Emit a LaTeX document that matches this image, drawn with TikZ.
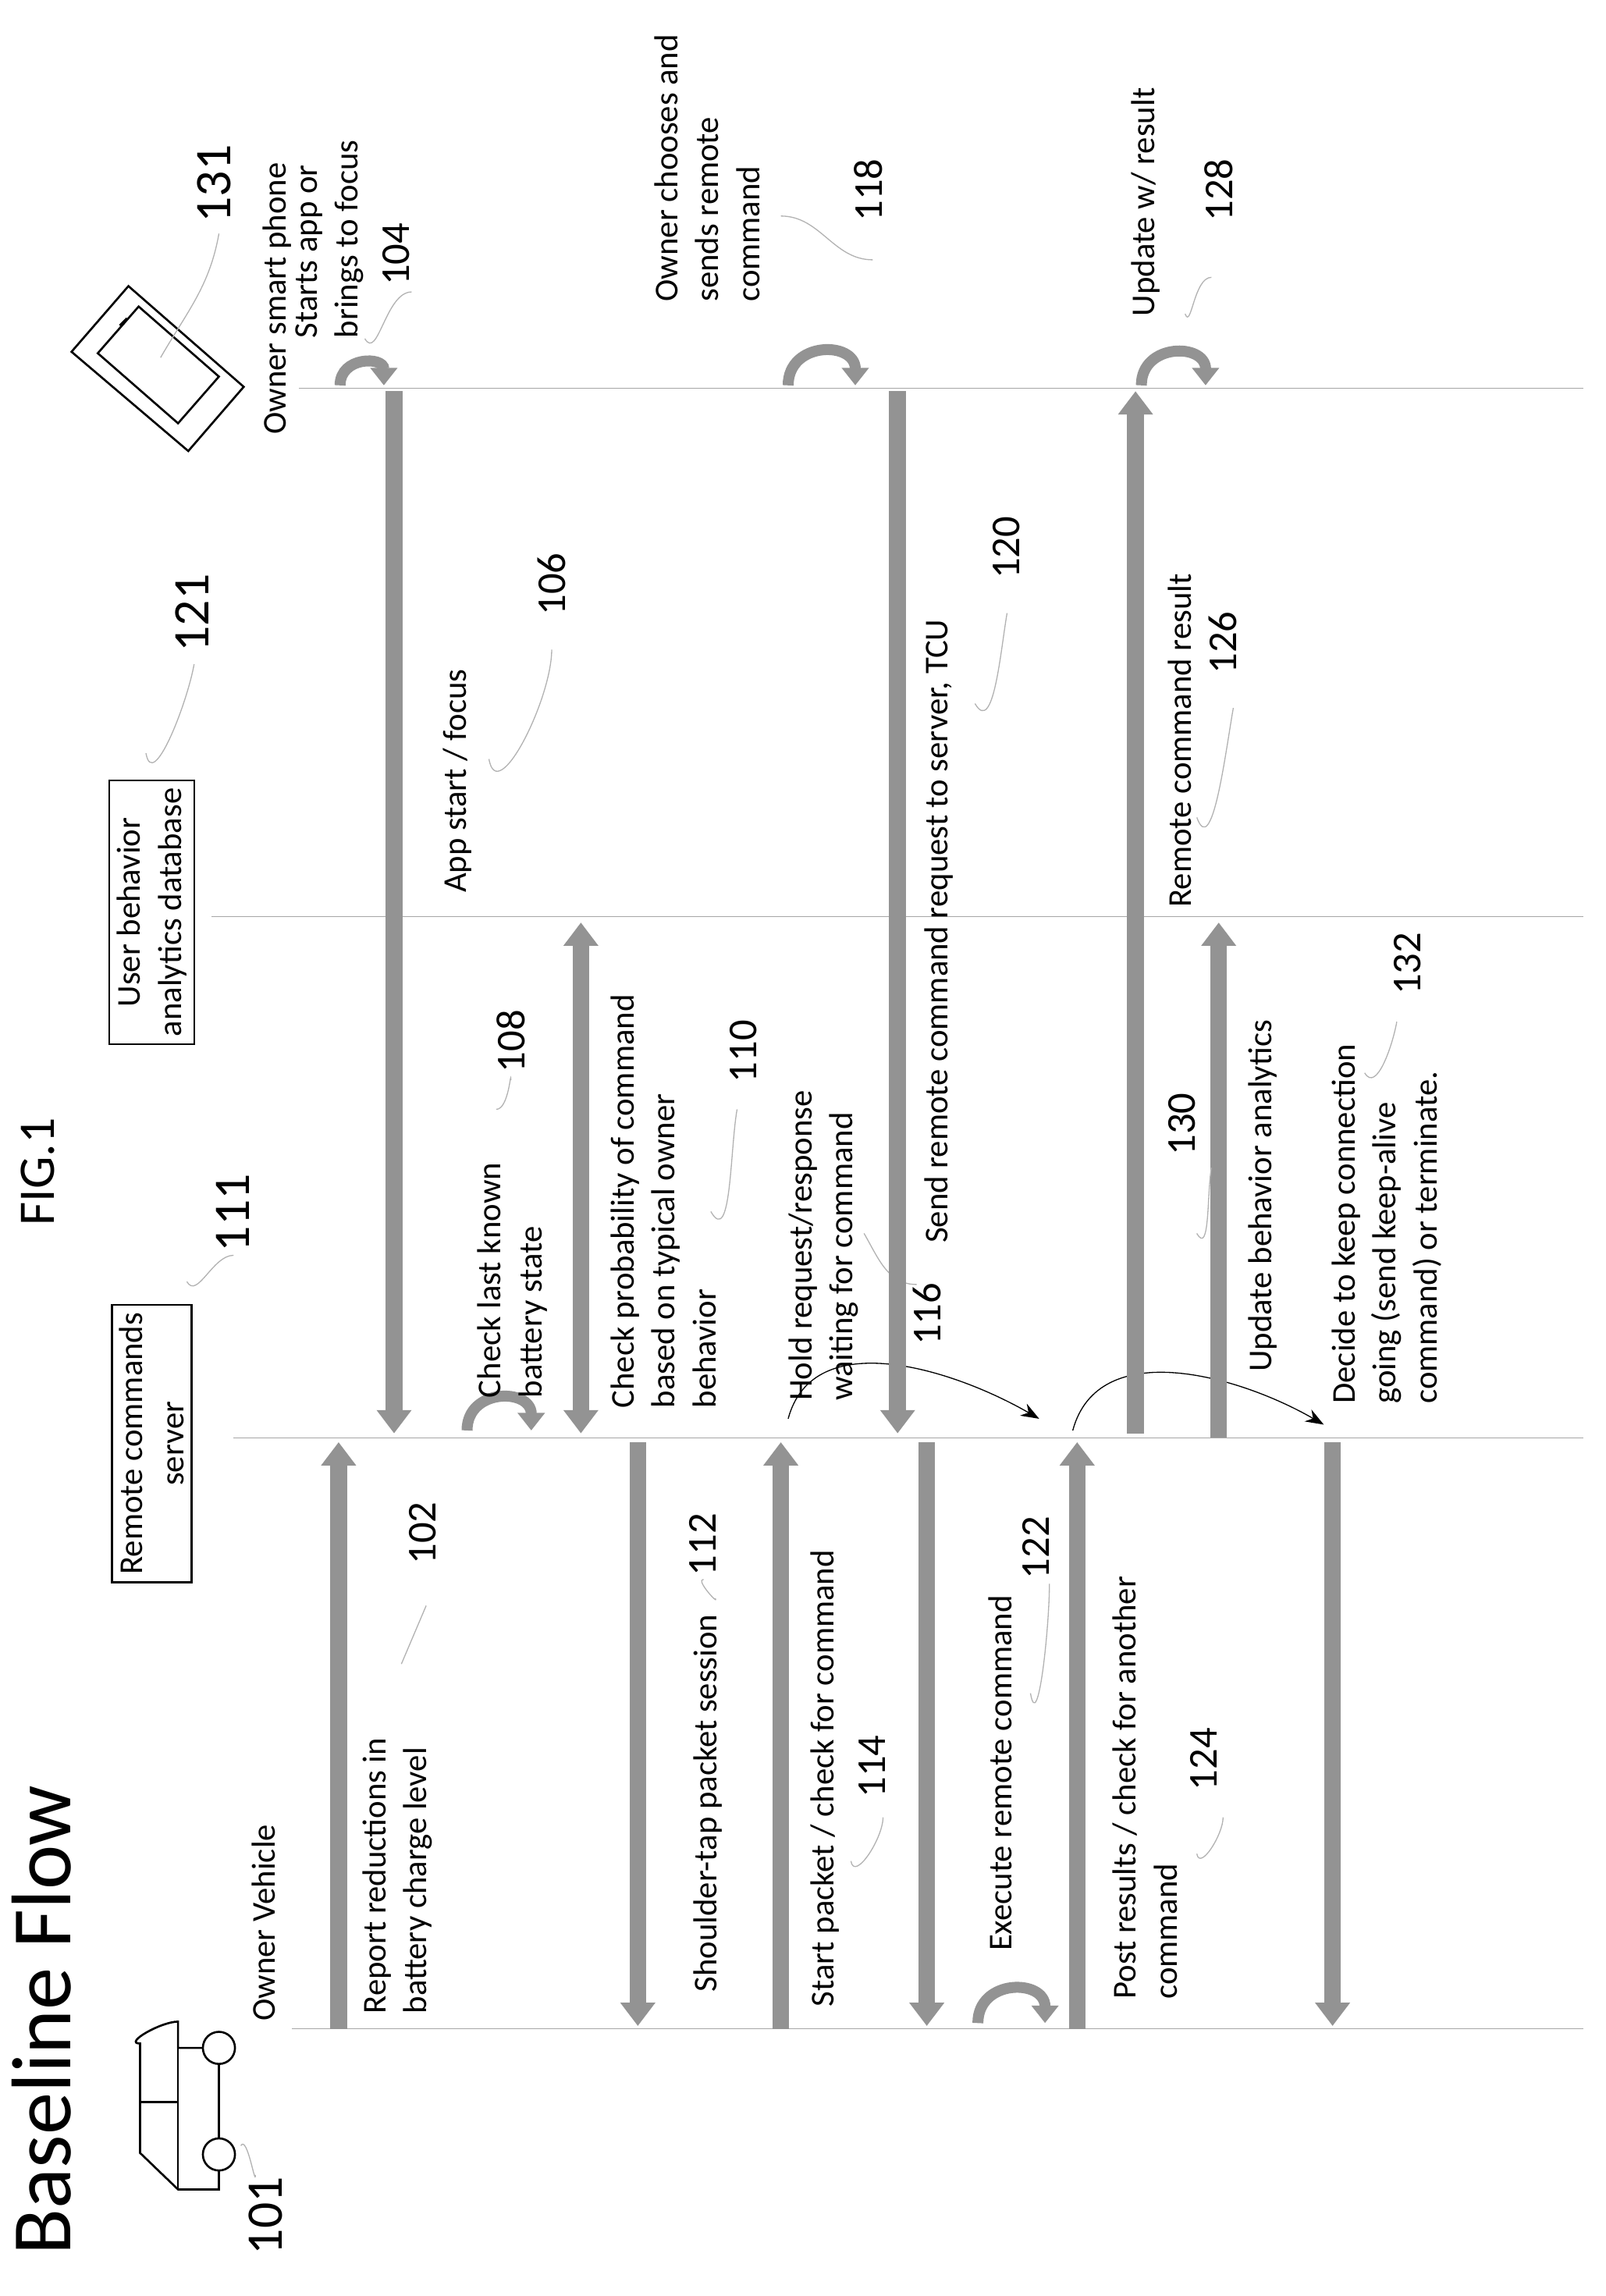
\documentclass[tikz,border=0pt]{standalone}
\usepackage{fontspec}
\setmainfont{Carlito}
\usetikzlibrary{arrows.meta}
\tikzset{%
    life/.style={draw=gray!70, thin},
    msg/.style={draw=gray!85, line width=2.3mm,
        -{Triangle[width=4.6mm,length=3.2mm]}},
    twoway/.style={msg, {Triangle[width=4.6mm,length=3.2mm]}-{Triangle[width=4.6mm,length=3.2mm]}},
    loop/.style={draw=gray!85, line width=1.5mm, -{Triangle[width=3.6mm,length=2.4mm]}},
    hold/.style={draw=black, thin, -{Stealth[length=2.5mm]}},
    lead/.style={draw=gray!60, thin},
    lbl/.style={rotate=90, anchor=north west, align=left, inner sep=0pt,
        font=\fontsize{13}{16}\selectfont},
    num/.style={rotate=90, anchor=north west, inner sep=0pt,
        font=\fontsize{16}{18}\selectfont},
    big/.style={num, font=\fontsize{20}{22}\selectfont}
}
\begin{document}
\begin{tikzpicture}[x=0.02cm,y=-0.02cm]
    \useasboundingbox (0,0) rectangle (1100,1573);
    % lifelines
    \draw[life] (200,1390) coordinate (veh0) -- (1085,1390) coordinate (veh1);
    \draw[life] (160,985) coordinate (srv0) -- (1085,985) coordinate (srv1);
    \draw[life] (145,628) coordinate (db0) -- (1085,628) coordinate (db1);
    \draw[life] (205,266) coordinate (ph0) -- (1085,266) coordinate (ph1);
    % titles
    \node[rotate=90, anchor=north west, inner sep=0pt, font=\fontsize{33}{36}\selectfont] (title) at (8,1545) {Baseline Flow};
    \node[big] (fig) at (14,840) {FIG.1};
    % vehicle
    \draw[thick] (150,1403) circle (11) (150,1476) circle (11);
    \draw[thick] (139,1403) -- (122,1403) -- (122,1385) to[out=180,in=180] (96,1400)
        -- (96,1475) -- (122,1500) -- (150,1500) -- (150,1487);
    \draw[thick] (150,1414) -- (150,1465);
    \draw[thick] (96,1440) -- (122,1440) (122,1403) -- (122,1500);
    \node[big] (n101) at (170,1545) {101};
    \draw[lead] (165,1470) to[out=60,in=-90] (175,1490);
    \node[lbl] (veh) at (172,1385) {Owner Vehicle};
    % phone
    \draw[thick] (49,241) -- (88,196) -- (167,265) -- (129,309) -- cycle;
    \draw[thick] (67,242) -- (95,210) -- (150,258) -- (122,290) -- cycle;
    \draw[thick] (82,223) -- (87,218);
    \node[big] (n131) at (135,153) {131};
    \draw[lead] (110,245) to[out=60,in=-100] (150,160);
    % boxes
    \node[draw, thick, rotate=90, inner sep=3pt, align=center,
        font=\fontsize{13}{16}\selectfont] (srvbox) at (104,989) {Remote commands\\server};
    \node[big] (n111) at (148,858) {111};
    \draw[lead] (128,878) to[out=-60,in=180] (160,860);
    \node[draw, thick, rotate=90, inner sep=3pt, align=center,
        font=\fontsize{13}{16}\selectfont] (dbbox) at (104,625) {User behavior\\analytics database};
    \node[big] (n121) at (120,447) {121};
    \draw[lead] (100,516) to[out=-80,in=-100] (133,455);
    % messages
    \draw[msg] (232,1390) -- (232,988);
    \node[lbl] (t102) at (248,1380) {Report reductions in\\battery charge level};
    \node[num] (n102) at (280,1072) {102};
    \draw[lead] (275,1140) -- (292,1100);

    \draw[loop] (233,264) to[out=90,in=90,looseness=1.7] (263,264);
    \node[lbl] (t104a) at (180,298) {Owner smart phone};
    \node[lbl] (t104) at (202,232) {Starts app or\\brings to focus};
    \node[num] (n104) at (262,196) {104};
    \draw[lead] (250,232) to[out=-60,in=180] (282,200);

    \draw[msg] (270,268) -- (270,982);
    \node[lbl] (t106) at (303,612) {App start / focus};
    \node[num] (n106) at (368,422) {106};
    \draw[lead] (335,520) to[out=-80,in=-90] (378,445);

    \draw[loop] (320,980) to[out=90,in=90,looseness=1.7] (364,980);
    \node[lbl] (t108) at (327,958) {Check last known\\battery state};
    \node[num] (n108) at (340,735) {108};
    \draw[lead] (340,760) to[out=0,in=90] (350,740);

    \draw[twoway] (398,632) -- (398,982);
    \node[lbl] (t110) at (418,965) {Check probability of command\\based on typical owner\\behavior};
    \node[num] (n110) at (500,742) {110};
    \draw[lead] (487,830) to[out=-60,in=-100] (505,760);

    \draw[msg] (437,988) -- (437,1388);
    \node[lbl] (t112) at (475,1365) {Shoulder-tap packet session};
    \node[num] (n112) at (472,1080) {112};
    \draw[lead] (490,1095) to[out=-60,in=180] (482,1082);

    \draw[msg] (535,1390) -- (535,988);
    \node[lbl] (t114) at (555,1375) {Start packet / check for command};
    \node[num] (n114) at (588,1232) {114};
    \draw[lead] (583,1275) to[out=-80,in=-90] (605,1245);

    \draw[hold] (540,972) to[out=75,in=150] (712,972);
    \node[lbl] (t116) at (540,960) {Hold request/response\\waiting for command};
    \node[num] (n116) at (625,922) {116};
    \draw[lead] (592,845) to[out=-60,in=180] (628,880);

    \draw[loop] (540,264) to[out=90,in=90,looseness=1.7] (586,264);
    \node[lbl] (t118) at (448,207) {Owner chooses and\\sends remote\\command};
    \node[num] (n118) at (585,152) {118};
    \draw[lead] (535,148) to[out=0,in=180] (598,178);

    \draw[msg] (615,268) -- (615,982);
    \node[lbl] (t120) at (633,852) {Send remote command request to server, TCU};
    \node[num] (n120) at (680,397) {120};
    \draw[lead] (668,482) to[out=-60,in=-100] (690,420);

    \draw[msg] (635,988) -- (635,1388);
    \draw[loop] (670,1386) to[out=90,in=90,looseness=1.7] (716,1386);
    \node[lbl] (t122) at (677,1337) {Execute remote command};
    \node[num] (n122) at (700,1082) {122};
    \draw[lead] (706,1160) to[out=-80,in=-90] (719,1085);

    \draw[msg] (738,1390) -- (738,988);
    \node[lbl] (t124) at (762,1370) {Post results / check for another\\command};
    \node[num] (n124) at (815,1227) {124};
    \draw[lead] (820,1270) to[out=-80,in=-90] (838,1245);

    \draw[hold] (735,980) to[out=75,in=150] (907,976);

    \draw[msg] (778,982) -- (778,268);
    \node[lbl] (t126) at (800,622) {Remote command result};
    \node[num] (n126) at (828,462) {126};
    \draw[lead] (820,560) to[out=-70,in=-100] (845,485);

    \draw[loop] (782,264) to[out=90,in=90,looseness=1.7] (826,264);
    \node[lbl] (t128) at (775,217) {Update w/ result};
    \node[num] (n128) at (825,152) {128};
    \draw[lead] (812,215) to[out=-70,in=180] (830,190);

    \draw[msg] (835,985) -- (835,632);
    \node[lbl] (t130) at (855,940) {Update behavior analytics};
    \node[num] (n130) at (800,792) {130};
    \draw[lead] (820,845) to[out=-60,in=-100] (830,800);

    \draw[msg] (913,988) -- (913,1388);
    \node[lbl] (t132) at (912,962) {Decide to keep connection\\going (send keep-alive\\command) or terminate.};
    \node[num] (n132) at (955,682) {132};
    \draw[lead] (935,735) to[out=-60,in=-100] (957,700);
\end{tikzpicture}
\end{document}
